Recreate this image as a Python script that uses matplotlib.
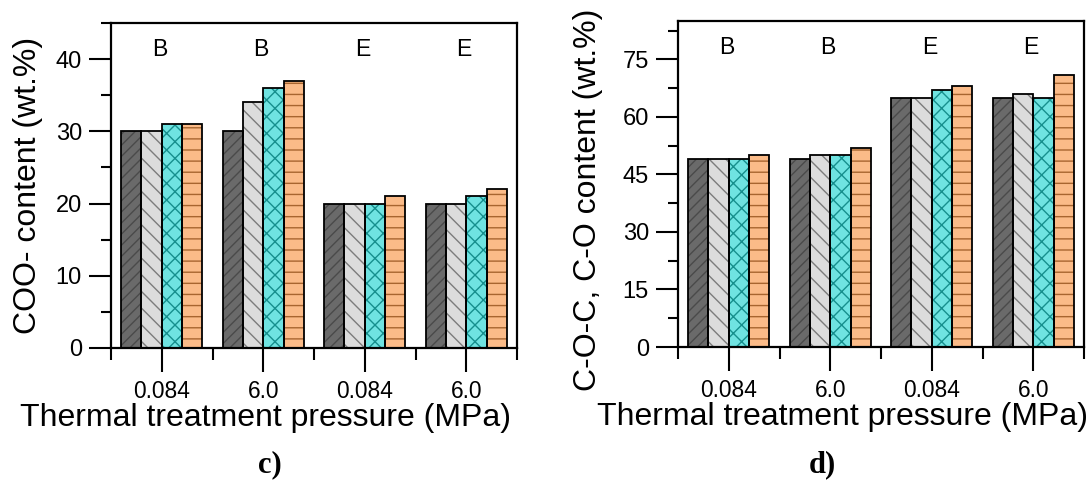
import matplotlib
matplotlib.use("Agg")
import matplotlib.pyplot as plt
import matplotlib.transforms as mtransforms
from matplotlib.ticker import FixedLocator, NullFormatter
import numpy as np

# ---- data ----
pressure_labels = ["0.084", "6.0", "0.084", "6.0"]
sample_tags = ["B", "B", "E", "E"]

coo_s1 = [30, 30, 20, 20]
coo_s2 = [30, 34, 20, 20]
coo_s3 = [31, 36, 20, 21]
coo_s4 = [31, 37, 21, 22]

coc_s1 = [49, 49, 65, 65]
coc_s2 = [49, 50, 65, 66]
coc_s3 = [49, 50, 67, 65]
coc_s4 = [50, 52, 68, 71]

# ---- styles ----
face_colors = ["#6a6a6a", "#dcdcdc", "#6fe3e1", "#fbbb88"]
hatch_colors = ["#4a4a4a", "#7c7c7c", "#168f8d", "#a8652f"]
hatches = ["/" * 6, "\\" * 4, "x" * 4, "---"]
bar_w = 0.2
offsets = [-0.3, -0.1, 0.1, 0.3]

plt.rcParams["font.family"] = ["Liberation Sans", "DejaVu Sans"]
plt.rcParams["hatch.linewidth"] = 0.5

fig = plt.figure(figsize=(5.46, 2.44), dpi=200)

W, H = 1092.0, 488.0
ax_c = fig.add_axes([111 / W, 1 - 348 / H, 406 / W, 325 / H])
ax_d = fig.add_axes([678 / W, 1 - 347 / H, 406 / W, 326 / H])

x = np.arange(1, len(pressure_labels) + 1)


def draw_panel(ax, series, ymax, major, minor, ylabel, ylab_xy, xlab_xy):
    for i, vals in enumerate(series):
        ax.bar(x + offsets[i], vals, width=bar_w, color=face_colors[i],
               edgecolor=hatch_colors[i], hatch=hatches[i], linewidth=0,
               zorder=2)
        ax.bar(x + offsets[i], vals, width=bar_w, fill=False,
               edgecolor="black", linewidth=0.65, zorder=3)
    ax.set_xlim(0.5, len(x) + 0.5)
    ax.set_ylim(0, ymax)

    ax.yaxis.set_major_locator(FixedLocator(major))
    ax.yaxis.set_minor_locator(FixedLocator(minor))
    ax.set_yticklabels([str(v) for v in major])
    ax.xaxis.set_major_locator(FixedLocator(list(x)))
    ax.xaxis.set_minor_locator(FixedLocator(list(np.arange(0.5, len(x) + 1, 1.0))))
    ax.set_xticklabels(pressure_labels)
    ax.xaxis.set_minor_formatter(NullFormatter())

    ax.tick_params(axis="y", which="major", direction="out", length=7.9,
                   width=0.75, labelsize=8.5, pad=2.6)
    ax.tick_params(axis="y", which="minor", direction="out", length=3.6,
                   width=0.75)
    ax.tick_params(axis="x", which="major", direction="out", length=8.6,
                   width=0.75, labelsize=8.2, pad=2.8)
    ax.tick_params(axis="x", which="minor", direction="out", length=4.3,
                   width=0.75)
    for sp in ax.spines.values():
        sp.set_linewidth(0.8)

    ax.set_ylabel(ylabel, fontsize=11.5)
    ax.yaxis.set_label_coords(*ylab_xy)
    ax.set_xlabel("Thermal treatment pressure (MPa)", fontsize=11.5)
    ax.xaxis.set_label_coords(*xlab_xy)

    trans = mtransforms.blended_transform_factory(ax.transData, ax.transAxes)
    for xi, tag in zip(x, sample_tags):
        ax.text(xi - 0.02, 0.918, tag, transform=trans, ha="center",
                va="center", fontsize=8.3)


draw_panel(ax_c, [coo_s1, coo_s2, coo_s3, coo_s4], 45,
           [0, 10, 20, 30, 40], [5, 15, 25, 35, 45],
           "COO- content (wt.%)", (-0.167, 0.5), (0.38, -0.168))
draw_panel(ax_d, [coc_s1, coc_s2, coc_s3, coc_s4], 85,
           [0, 15, 30, 45, 60, 75], [7.5, 22.5, 37.5, 52.5, 67.5, 82.5],
           "C-O-C, C-O content (wt.%)", (-0.185, 0.45), (0.404, -0.168))

fig.text(270 / W, 1 - 465 / H, "c)", ha="center", va="center",
         fontsize=11, fontweight="bold", family=["Liberation Serif", "DejaVu Serif"])
fig.text(822 / W, 1 - 465 / H, "d)", ha="center", va="center",
         fontsize=11, fontweight="bold", family=["Liberation Serif", "DejaVu Serif"])

fig.savefig("out.png", dpi=200)
